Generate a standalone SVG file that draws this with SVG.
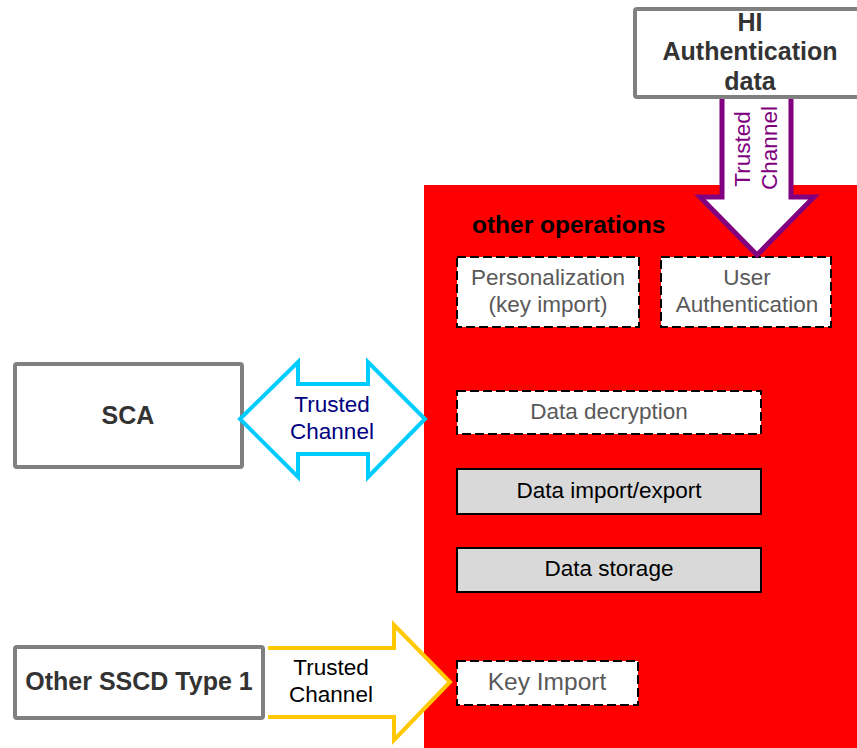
<svg xmlns="http://www.w3.org/2000/svg" width="857" height="748" viewBox="0 0 857 748">
<style>
text{font-family:"Liberation Sans",Arial,sans-serif;text-anchor:middle}
.b{font-weight:bold;font-size:25px;fill:#333333}
.r{font-size:22.5px}
.g{fill:#595959}
.k{fill:#000000}
.ext{fill:#ffffff;stroke:#808080;stroke-width:4}
.dash{fill:#ffffff;stroke:#000000;stroke-width:2;stroke-dasharray:9,4}
.solid{fill:#d9d9d9;stroke:#000000;stroke-width:2}
</style>
<rect id="tsf" x="424" y="185" width="433" height="563" fill="#ff0000"/>
<text x="472" y="233" style="text-anchor:start;font-weight:bold;font-size:24.5px;fill:#000000">other operations</text>

<g id="hi-auth">
<rect class="ext" x="635" y="9" width="232" height="88" rx="2"/>
<text class="b" x="750" y="31">HI</text>
<text class="b" x="750" y="60">Authentication</text>
<text class="b" x="750" y="90">data</text>
</g>

<g id="sca">
<rect class="ext" x="15" y="364" width="227" height="103" rx="2"/>
<text class="b" x="128" y="424">SCA</text>
</g>

<g id="other-sscd">
<rect class="ext" x="15" y="647" width="248" height="71" rx="2"/>
<text class="b" x="139" y="690">Other SSCD Type 1</text>
</g>

<g id="personalization">
<rect class="dash" x="457" y="257" width="182" height="70"/>
<text class="r g" x="548" y="285">Personalization</text>
<text class="r g" x="548" y="312">(key import)</text>
</g>

<g id="user-auth">
<rect class="dash" x="661" y="257" width="170" height="70"/>
<text class="r g" x="747" y="285">User</text>
<text class="r g" x="747" y="312">Authentication</text>
</g>

<g id="data-decryption">
<rect class="dash" x="457" y="391" width="304" height="43"/>
<text class="r g" x="609" y="419">Data decryption</text>
</g>

<g id="data-import-export">
<rect class="solid" x="457" y="469" width="304" height="45"/>
<text class="r k" x="609" y="498">Data import/export</text>
</g>

<g id="data-storage">
<rect class="solid" x="457" y="548" width="304" height="44"/>
<text class="r k" x="609" y="576">Data storage</text>
</g>

<g id="key-import">
<rect class="dash" x="457" y="661" width="181" height="44"/>
<text class="g" style="font-size:24.5px" x="547" y="690">Key Import</text>
</g>

<g id="connectors">
<g id="hi-channel">
<path d="M722,99 L722,197 L700,197 L757,255 L814,197 L791,197 L791,99" fill="#ffffff" stroke="#800080" stroke-width="5" stroke-linejoin="miter"/>
<text class="r" fill="#800080" transform="translate(750,149) rotate(-90)">Trusted</text>
<text class="r" fill="#800080" transform="translate(777,148) rotate(-90)">Channel</text>
</g>
<g id="sca-channel">
<path d="M240,419 L298,362 L298,384 L368,384 L368,362 L425,419 L368,477 L368,454 L298,454 L298,477 Z" fill="#ffffff" stroke="#00ccff" stroke-width="4"/>
<text class="r" fill="#000080" x="332" y="412">Trusted</text>
<text class="r" fill="#000080" x="332" y="439">Channel</text>
</g>
<g id="sscd-channel">
<path d="M268,648 L394,648 L394,625 L450,682 L394,740 L394,717 L268,717" fill="#ffffff" stroke="#ffc800" stroke-width="4"/>
<text class="r k" x="331" y="675">Trusted</text>
<text class="r k" x="331" y="702">Channel</text>
</g>
</g>
</svg>
